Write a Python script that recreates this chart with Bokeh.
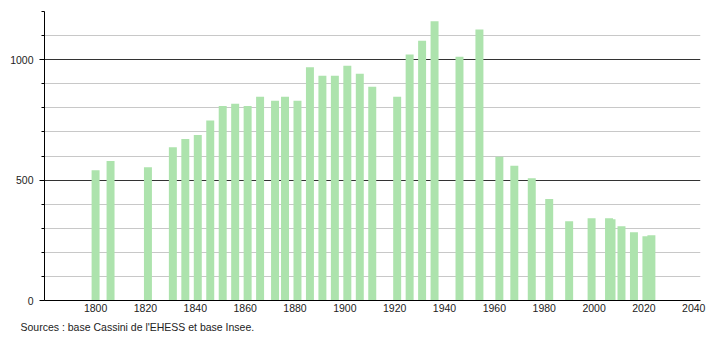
from bokeh.plotting import figure
from bokeh.models import Range1d, SingleIntervalTicker, FixedTicker, Grid, Title
from bokeh.embed import file_html
from bokeh.resources import INLINE

years = [1800, 1806, 1821, 1831, 1836, 1841, 1846, 1851, 1856, 1861, 1866, 1872,
         1876, 1881, 1886, 1891, 1896, 1901, 1906, 1911, 1921, 1926, 1931, 1936,
         1946, 1954, 1962, 1968, 1975, 1982, 1990, 1999, 2006, 2007, 2011, 2016,
         2021, 2023]
population = [541, 579, 553, 636, 671, 687, 747, 808, 817, 808, 846, 829,
              846, 829, 968, 933, 933, 975, 942, 888, 846, 1021, 1079, 1160,
              1012, 1125, 597, 560, 508, 421, 329, 342, 342, 337, 308, 283,
              267, 271]
x_ticks = [1800, 1820, 1840, 1860, 1880, 1900, 1920, 1940, 1960, 1980, 2000, 2020, 2040]
minor_grid = [100, 200, 300, 400, 600, 700, 800, 900, 1100, 1200]
major_grid = [500, 1000]
source_text = "Sources : base Cassini de l'EHESS et base Insee."

FONT = "Liberation Sans"

p = figure(width=710, height=340, output_backend="svg", toolbar_location=None,
           x_range=Range1d(1779.5, 2042.7), y_range=Range1d(0, 1200),
           min_border_left=44, min_border_right=10, min_border_top=11,
           min_border_bottom=40)
p.outline_line_color = None
p.background_fill_color = "white"

p.vbar(x=years, top=population, width=3.2, bottom=0,
       fill_color="#ade3ad", line_color=None)

# grids
p.xgrid.visible = False
p.ygrid.visible = False
g_minor = Grid(dimension=1, ticker=FixedTicker(ticks=minor_grid),
               grid_line_color="#c8c8c8", grid_line_width=1)
g_major = Grid(dimension=1, ticker=FixedTicker(ticks=major_grid),
               grid_line_color="#333333", grid_line_width=1)
p.add_layout(g_minor)
p.add_layout(g_major)
g_minor.level = "underlay"
g_major.level = "underlay"

# y axis
ya = p.yaxis[0]
ya.ticker = SingleIntervalTicker(interval=500, num_minor_ticks=5)
ya.axis_line_color = "black"
ya.major_tick_line_color = "black"
ya.minor_tick_line_color = "black"
ya.major_tick_out = 5
ya.major_tick_in = 0
ya.minor_tick_out = 3
ya.minor_tick_in = 0
ya.major_label_standoff = 6
ya.major_label_text_font = FONT
ya.major_label_text_font_size = "10.5px"
ya.major_label_text_color = "#222222"

# x axis
xa = p.xaxis[0]
xa.ticker = FixedTicker(ticks=x_ticks)
xa.axis_line_color = "black"
xa.major_tick_line_color = None
xa.minor_tick_line_color = None
xa.major_tick_out = 0
xa.major_tick_in = 0
xa.major_label_standoff = 3
xa.major_label_text_font = FONT
xa.major_label_text_font_size = "10.5px"
xa.major_label_text_color = "#222222"

src = Title(text=source_text, align="left", offset=-24,
            text_font=FONT, text_font_size="10.5px", text_font_style="normal",
            text_color="#222222", standoff=8)
p.add_layout(src, "below")

open("out.html", "w").write(file_html(p, INLINE))
